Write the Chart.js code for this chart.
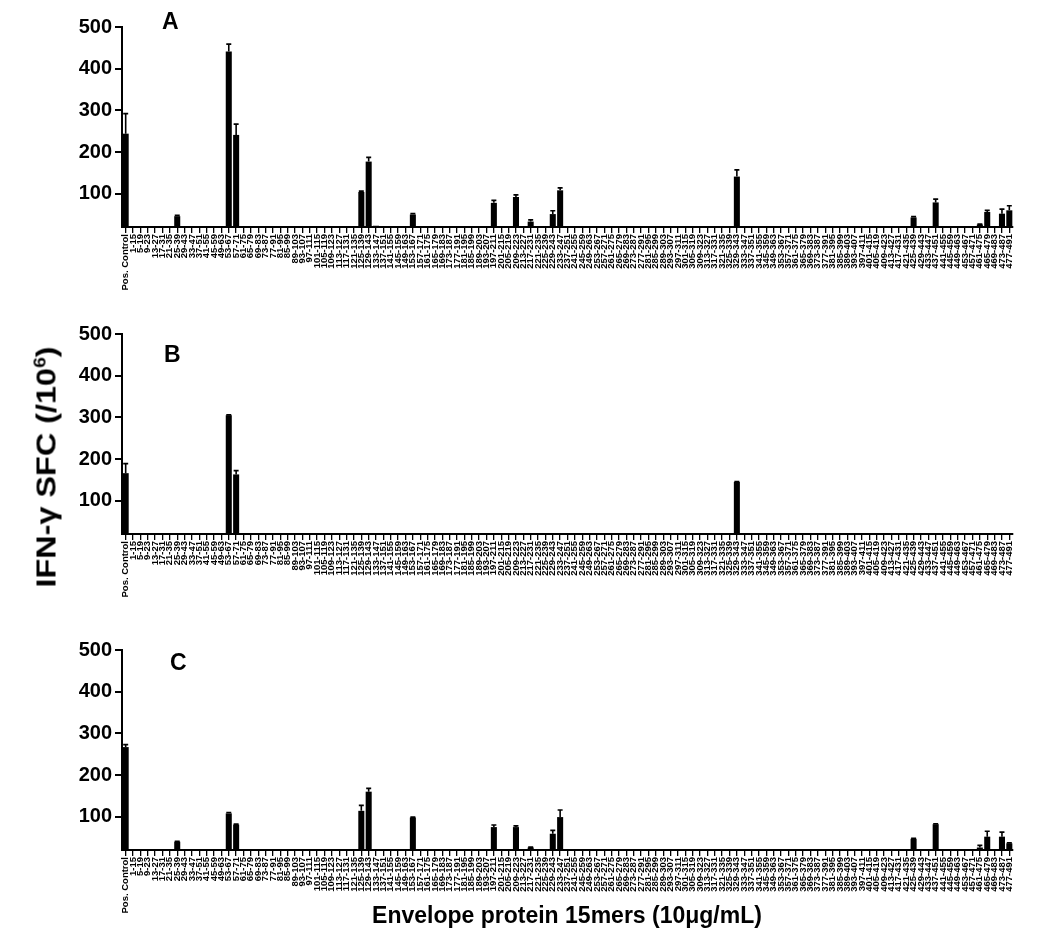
<!DOCTYPE html>
<html>
<head>
<meta charset="utf-8">
<script src="https://cdn.jsdelivr.net/npm/chart.js@4.4.1/dist/chart.umd.min.js"></script>
<style>
  html, body { margin: 0; padding: 0; background: #fff; }
  body { width: 1050px; height: 945px; position: relative; overflow: hidden; font-family: "Liberation Sans", Arial, sans-serif; }
  canvas { position: absolute; left: 0; }
  .lbl { position: absolute; font-weight: bold; color: #000; white-space: nowrap; }
</style>
</head>
<body>
<canvas id="cA" width="1050" height="300" style="top:0px"></canvas>
<canvas id="cB" width="1050" height="300" style="top:307px"></canvas>
<canvas id="cC" width="1050" height="300" style="top:623px"></canvas>
<div class="lbl" style="left:162px;top:8px;font-size:23px;">A</div>
<div class="lbl" style="left:164px;top:341px;font-size:23px;">B</div>
<div class="lbl" style="left:170px;top:649px;font-size:23px;">C</div>
<div class="lbl" id="ytitle" style="left:47px;top:467px;font-size:27px;transform:translate(-50%,-50%) rotate(-90deg) scaleX(1.2);">IFN-γ SFC (/10<sup style="font-size:16px;">6</sup>)</div>
<div class="lbl" style="left:567px;top:915px;font-size:23px;transform:translate(-50%,-50%);">Envelope protein 15mers (10μg/mL)</div>
<script>
const categories = ["Pos. Control",
"1-15","5-19","9-23","13-27","17-31","21-35","25-39","29-43","33-47","37-51",
"41-55","45-59","49-63","53-67","57-71","61-75","65-79","69-83","73-87","77-91",
"81-95","85-99","89-103","93-107","97-111","101-115","105-119","109-123","113-127","117-131",
"121-135","125-139","129-143","133-147","137-151","141-155","145-159","149-163","153-167","157-171",
"161-175","165-179","169-183","173-187","177-191","181-195","185-199","189-203","193-207","197-211",
"201-215","205-219","209-223","213-227","217-231","221-235","225-239","229-243","233-247","237-251",
"241-255","245-259","249-263","253-267","257-271","261-275","265-279","269-283","273-287","277-291",
"281-295","285-299","289-303","293-307","297-311","301-315","305-319","309-323","313-327","317-331",
"321-335","325-339","329-343","333-347","337-351","341-355","345-359","349-363","353-367","357-371",
"361-375","365-379","369-383","373-387","377-391","381-395","385-399","389-403","393-407","397-411",
"401-415","405-419","409-423","413-427","417-431","421-435","425-439","429-443","433-447","437-451",
"441-455","445-459","449-463","453-467","457-471","461-475","465-479","469-483","473-487","477-491"];

const yTickValues = [100, 200, 300, 400, 500];

// Panel A
const valuesA = [244,
0,0,0,0,0,0,46,0,0,0,
0,0,0,441,241,0,0,0,0,0,
0,0,0,0,0,0,0,0,0,0,
0,104,177,23,0,0,0,0,50,0,
0,0,0,0,0,0,0,0,0,78,
0,0,92,0,33,0,0,51,108,0,
0,0,0,0,0,0,0,0,0,0,
0,0,0,0,0,0,0,0,0,0,
0,0,141,0,0,0,0,0,0,0,
0,0,0,0,0,0,0,0,0,0,
0,0,0,0,0,0,43,0,0,79,
0,0,0,0,0,26,56,0,52,60];
const errorsA = [48,
0,0,0,0,0,0,2,0,0,0,
0,0,0,18,26,0,0,0,0,0,
0,0,0,0,0,0,0,0,0,0,
0,2,10,0,0,0,0,0,2,0,
0,0,0,0,0,0,0,0,0,6,
0,0,5,0,4,0,0,8,6,0,
0,0,0,0,0,0,0,0,0,0,
0,0,0,0,0,0,0,0,0,0,
0,0,16,0,0,0,0,0,0,0,
0,0,0,0,0,0,0,0,0,0,
0,0,0,0,0,0,2,0,0,8,
0,0,0,0,0,1,4,0,11,11];

// Panel B
const valuesB = [166,
0,0,0,0,0,0,0,0,0,0,
0,0,0,305,163,0,0,0,0,0,
0,0,0,0,0,0,0,0,0,0,
0,0,0,0,0,0,0,0,0,0,
0,0,0,0,0,0,0,0,0,0,
0,0,0,0,0,0,0,0,0,0,
0,0,0,0,0,0,0,0,0,0,
0,0,0,0,0,0,0,0,0,0,
0,0,145,0,0,0,0,0,0,0,
0,0,0,0,0,0,0,0,0,0,
0,0,0,0,0,0,0,0,0,0,
0,0,0,0,0,0,0,0,0,0];
const errorsB = [23,
0,0,0,0,0,0,0,0,0,0,
0,0,0,1,9,0,0,0,0,0,
0,0,0,0,0,0,0,0,0,0,
0,0,0,0,0,0,0,0,0,0,
0,0,0,0,0,0,0,0,0,0,
0,0,0,0,0,0,0,0,0,0,
0,0,0,0,0,0,0,0,0,0,
0,0,0,0,0,0,0,0,0,0,
0,0,1,0,0,0,0,0,0,0,
0,0,0,0,0,0,0,0,0,0,
0,0,0,0,0,0,0,0,0,0,
0,0,0,0,0,0,0,0,0,0];

// Panel C
const valuesC = [267,
0,0,0,0,0,0,40,0,0,0,
0,0,0,108,81,0,0,0,0,0,
0,0,0,0,0,0,0,0,0,0,
0,114,160,0,0,0,0,0,98,0,
0,0,0,0,0,0,0,0,0,75,
0,0,75,0,26,0,0,59,99,0,
0,0,0,0,0,0,0,0,0,0,
0,0,0,0,0,0,0,0,0,0,
0,0,0,0,0,0,0,0,0,0,
0,0,0,0,0,0,0,0,0,0,
0,0,0,0,0,0,47,0,0,82,
0,0,0,0,0,26,52,0,52,36];
const errorsC = [6,
0,0,0,0,0,0,1,0,0,0,
0,0,0,2,1,0,0,0,0,0,
0,0,0,0,0,0,0,0,0,0,
0,13,8,0,0,0,0,0,1,0,
0,0,0,0,0,0,0,0,0,5,
0,0,3,0,1,0,0,8,17,0,
0,0,0,0,0,0,0,0,0,0,
0,0,0,0,0,0,0,0,0,0,
0,0,0,0,0,0,0,0,0,0,
0,0,0,0,0,0,0,0,0,0,
0,0,0,0,0,0,1,0,0,1,
0,0,0,0,0,5,13,0,11,1];

const errorBarPlugin = {
  id: 'errorBars',
  afterDatasetsDraw(chart) {
    const ctx = chart.ctx;
    const ys = chart.scales.y;
    chart.data.datasets.forEach((ds, di) => {
      const meta = chart.getDatasetMeta(di);
      ctx.save();
      ctx.strokeStyle = '#000';
      ctx.lineWidth = 1.6;
      meta.data.forEach((bar, i) => {
        const v = ds.data[i], e = ds.errors[i];
        if (!v || !e) return;
        const yTop = ys.getPixelForValue(v + e);
        ctx.beginPath();
        ctx.moveTo(bar.x, bar.y);
        ctx.lineTo(bar.x, yTop);
        ctx.moveTo(bar.x - 2.5, yTop);
        ctx.lineTo(bar.x + 2.5, yTop);
        ctx.stroke();
      });
      ctx.restore();
    });
  }
};

function makeChart(id, values, errors) {
  return new Chart(document.getElementById(id), {
    type: 'bar',
    data: {
      labels: categories,
      datasets: [{
        data: values,
        errors: errors,
        backgroundColor: '#000',
        borderWidth: 0,
        barPercentage: 0.82,
        categoryPercentage: 1.0
      }]
    },
    options: {
      responsive: false,
      animation: false,
      devicePixelRatio: 1,
      layout: { padding: { top: 27, right: 37, left: 0, bottom: 0 } },
      plugins: { legend: { display: false }, tooltip: { enabled: false }, title: { display: false } },
      scales: {
        x: {
          type: 'category',
          offset: true,
          grid: { display: true, offset: false, drawOnChartArea: false, drawTicks: true, tickLength: 6, color: '#000', lineWidth: 1.3 },
          border: { display: true, color: '#000', width: 2 },
          ticks: {
            autoSkip: false, minRotation: 90, maxRotation: 90, padding: 1,
            color: '#000', font: { family: '"Liberation Sans", Arial, sans-serif', size: 9.5, weight: 'bold' }
          },
          afterFit(scale) { scale.height = 73; }
        },
        y: {
          min: 20, max: 500,
          grid: { display: true, drawOnChartArea: false, drawTicks: true, tickLength: 7, color: '#000', lineWidth: 2 },
          border: { display: true, color: '#000', width: 2 },
          ticks: { color: '#000', padding: 3, font: { family: '"Liberation Sans", Arial, sans-serif', size: 20, weight: 'bold' } },
          afterBuildTicks(scale) { scale.ticks = yTickValues.map(v => ({ value: v })); },
          afterFit(scale) { scale.width = 122; }
        }
      }
    },
    plugins: [errorBarPlugin]
  });
}

makeChart('cA', valuesA, errorsA);
makeChart('cB', valuesB, errorsB);
makeChart('cC', valuesC, errorsC);
</script>
</body>
</html>
